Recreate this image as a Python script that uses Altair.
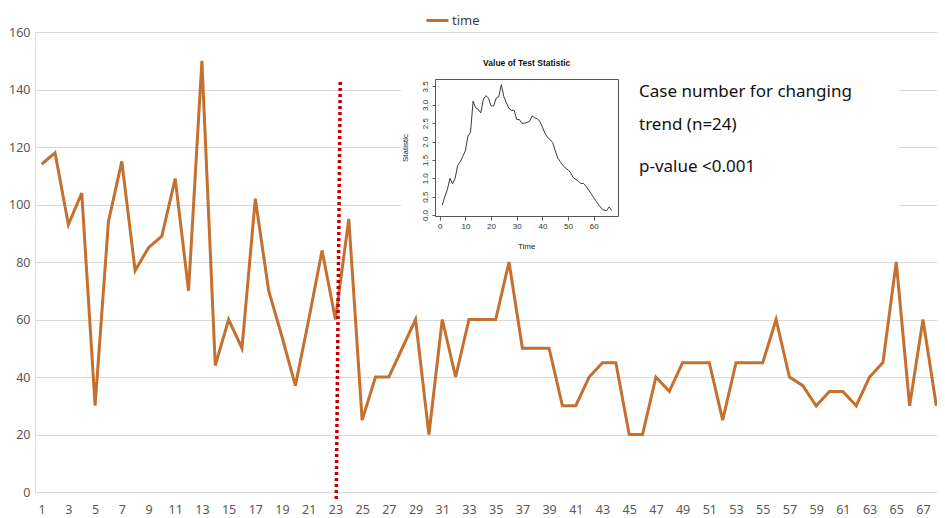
import altair as alt
import pandas as pd

# ---- main series (Excel line chart) ----
cases = list(range(1, 69))
time_values = [114, 118, 93, 104, 30, 94, 115, 77, 85, 89,
               109, 70, 150, 44, 60, 50, 102, 70, 54, 37,
               60, 84, 60, 95, 25, 40, 40, 50, 60, 20,
               60, 40, 60, 60, 60, 80, 50, 50, 50, 30,
               30, 40, 45, 45, 20, 20, 40, 35, 45, 45,
               45, 25, 45, 45, 45, 60, 40, 37, 30, 35,
               35, 30, 40, 45, 80, 30, 60, 30]
x_tick_labels = list(range(1, 68, 2))
y_ticks = [0, 20, 40, 60, 80, 100, 120, 140, 160]

# change point marker (dotted red line)
cp_x = [23.36]
cp_x2 = [23.06]
cp_y = [142.6]
cp_y2 = [-2.9]

# ---- inset: value of test statistic ----
stat_time = list(range(1, 68))
stat_values = [0.27, 0.5, 0.7, 1.0, 0.85, 1.0, 1.35, 1.45, 1.6, 1.75,
               2.15, 2.25, 3.1, 2.92, 2.88, 2.78, 3.15, 3.25, 3.18, 2.97,
               2.97, 3.18, 3.22, 3.55, 3.22, 3.05, 2.9, 2.85, 2.85, 2.6,
               2.6, 2.5, 2.5, 2.52, 2.55, 2.7, 2.65, 2.62, 2.55, 2.4,
               2.22, 2.12, 2.05, 1.97, 1.75, 1.55, 1.45, 1.35, 1.28, 1.23,
               1.15, 1.02, 0.97, 0.92, 0.86, 0.86, 0.78, 0.68, 0.58, 0.47,
               0.37, 0.27, 0.18, 0.13, 0.12, 0.22, 0.12]
inset_x_ticks = [0, 10, 20, 30, 40, 50, 60]
inset_y_ticks = [0.0, 0.5, 1.0, 1.5, 2.0, 2.5, 3.0, 3.5]

annot_lines = ["Case number for changing", "trend (n=24)", "p-value <0.001"]

ORANGE = "#C5702F"
W, H = 902, 460

main_df = pd.DataFrame({"case": cases, "value": time_values, "series": ["time"] * len(cases)})
cp_df = pd.DataFrame({"x": cp_x, "x2": cp_x2, "y": cp_y, "y2": cp_y2})
stat_df = pd.DataFrame({"t": stat_time, "s": stat_values})
one = pd.DataFrame({"k": [0]})

xs = alt.Scale(domain=[0.5, 68.5], range=[0, 908], nice=False, zero=False)
ys = alt.Scale(domain=[0, 160], nice=False)

white = alt.Chart(one).mark_rect(fill="white", stroke=None).encode(
    x=alt.value(366), x2=alt.value(864), y=alt.value(8), y2=alt.value(223)
)

main_x_axis = alt.Axis(values=x_tick_labels, grid=False, domain=False, ticks=False, tickSize=0,
                       labelPadding=11, labelFontSize=12.5, labelColor="#595959",
                       labelFont="Noto Sans", title=None, labelFlush=False,
                       labelOverlap=False, labelBound=False)
main_y_axis = alt.Axis(values=y_ticks, grid=True, gridColor="#D9D9D9", gridWidth=1,
                       domain=False, ticks=False, tickSize=0, labelPadding=5,
                       labelFontSize=12.5, labelColor="#595959", labelFont="Noto Sans",
                       title=None, labelOverlap=False)

line = alt.Chart(main_df).mark_line(strokeWidth=3, strokeJoin="miter").encode(
    x=alt.X("case:Q", scale=xs, axis=main_x_axis),
    y=alt.Y("value:Q", scale=ys, axis=main_y_axis),
    color=alt.Color("series:N", scale=alt.Scale(domain=["time"], range=[ORANGE]),
                    legend=alt.Legend(orient="none", legendX=390, legendY=-24, title=None,
                                      symbolType="stroke", symbolStrokeWidth=3, symbolSize=484,
                                      labelFontSize=13, labelColor="#404040", labelFont="Noto Sans",
                                      labelOffset=2, padding=0)),
)

rule = alt.Chart(cp_df).mark_rule(color="#C00000", strokeWidth=3.5, strokeDash=[3, 3]).encode(
    x=alt.X("x:Q", scale=xs, axis=main_x_axis), x2="x2:Q",
    y=alt.Y("y:Q", scale=ys, axis=main_y_axis), y2="y2:Q",
)

main = alt.layer(white, line, rule)

# inset pieces
ixs = alt.Scale(domain=[-1.64, 69.64], range=[400.5, 583.5], nice=False, zero=False)
iys = alt.Scale(domain=[-0.04, 3.69], range=[184.5, 47.5], nice=False, zero=False)

box = alt.Chart(one).mark_rect(fill=None, stroke="#555555", strokeWidth=1).encode(
    x=alt.value(400.5), x2=alt.value(583.5), y=alt.value(47.5), y2=alt.value(184.5)
)

inset_line = alt.Chart(stat_df).mark_line(color="#3a3a3a", strokeWidth=1).encode(
    x=alt.X("t:Q", scale=ixs,
            axis=alt.Axis(orient="bottom", offset=-(H - 184.5), values=inset_x_ticks, grid=False,
                          domain=False, tickSize=3.5, tickColor="#555555", labelPadding=2,
                          labelFontSize=8, labelColor="#333333", labelFont="Liberation Sans",
                          title=None, zindex=1, labelFlush=False, labelOverlap=False)),
    y=alt.Y("s:Q", scale=iys,
            axis=alt.Axis(orient="left", offset=-400.5, values=inset_y_ticks, format=".1f",
                          grid=False, domain=False, tickSize=3.5, tickColor="#555555",
                          labelPadding=3, labelAngle=270, labelAlign="center",
                          labelBaseline="bottom", labelFontSize=8, labelColor="#333333",
                          labelFont="Liberation Sans", title=None, zindex=1, labelFlush=False,
                          labelOverlap=False)),
)

inset_title = alt.Chart(one).mark_text(text="Value of Test Statistic", font="Liberation Sans",
                                       fontWeight="bold", fontSize=8.5, color="#111111",
                                       align="center", baseline="middle").encode(
    x=alt.value(491.7), y=alt.value(30.7))
inset_xlab = alt.Chart(one).mark_text(text="Time", font="Liberation Sans", fontSize=8,
                                      color="#222222", align="center", baseline="middle").encode(
    x=alt.value(491.7), y=alt.value(215))
inset_ylab = alt.Chart(one).mark_text(text="Statistic", font="Liberation Sans", fontSize=8,
                                      color="#222222", align="center", baseline="middle",
                                      angle=270).encode(
    x=alt.value(371), y=alt.value(116))

annot_y = [60.3, 93, 135.3]
annots = [
    alt.Chart(pd.DataFrame({"txt": [annot_lines[i]]})).mark_text(
        font="Noto Sans", fontSize=17, color="#111111", align="left", baseline="middle"
    ).encode(text="txt:N", x=alt.value(604), y=alt.value(annot_y[i]))
    for i in range(3)
]

inset = alt.layer(box, inset_line, inset_title, inset_xlab, inset_ylab, *annots)

chart = alt.layer(main, inset).resolve_scale(x="independent", y="independent").properties(
    width=W, height=H,
    autosize=alt.AutoSizeParams(type="none"),
    padding={"left": 27, "top": 24, "right": 0, "bottom": 26},
).configure_view(stroke=None).configure(background="white").configure_axis(labelOverlap=False)

chart.save("out.html", embed_options={"renderer": "svg", "actions": False})
